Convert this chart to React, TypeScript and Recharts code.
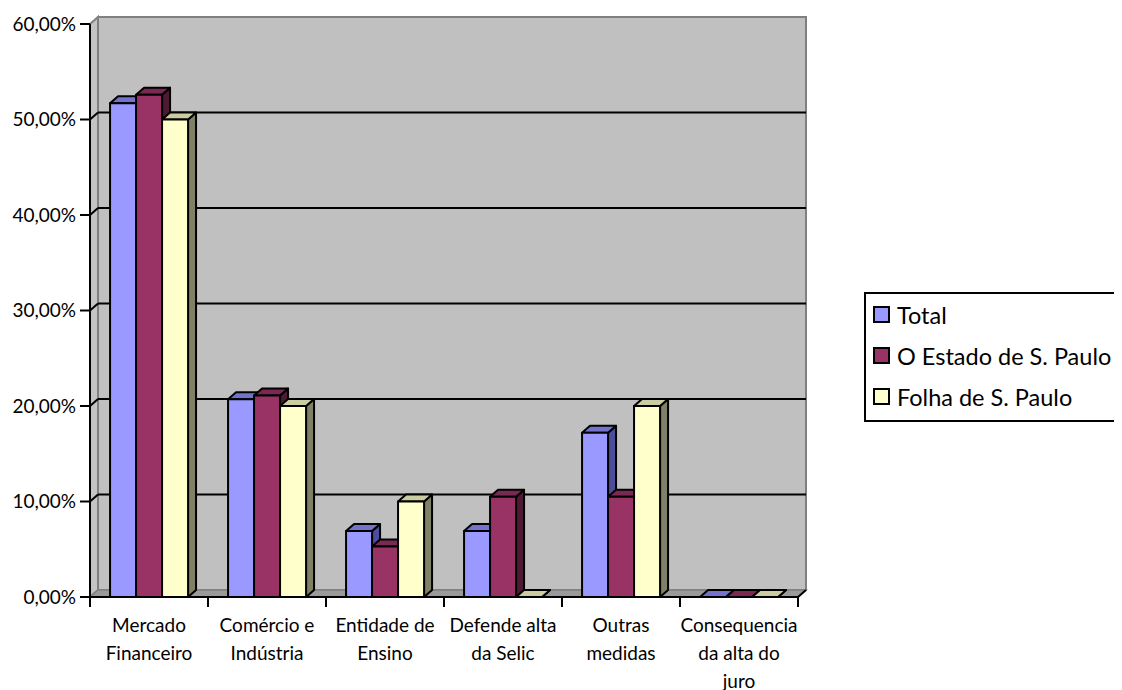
import { BarChart, Bar, XAxis, YAxis, Legend, ReferenceArea, ReferenceLine } from "recharts";

const categoryLines = [
  ["Mercado", "Financeiro"],
  ["Comércio e", "Indústria"],
  ["Entidade de", "Ensino"],
  ["Defende alta", "da Selic"],
  ["Outras", "medidas"],
  ["Consequencia", "da alta do", "juro"],
];
const categories = categoryLines.map((l) => l.join(" "));

const totalValues = [0.517, 0.207, 0.069, 0.069, 0.172, 0];
const estadoValues = [0.526, 0.211, 0.053, 0.105, 0.105, 0];
const folhaValues = [0.5, 0.2, 0.1, 0, 0.2, 0];

const seriesNames = ["Total", "O Estado de S. Paulo", "Folha de S. Paulo"];

const yTicks = [0, 0.1, 0.2, 0.3, 0.4, 0.5, 0.6];

const data = categories.map((name, i) => ({
  name,
  total: totalValues[i],
  estado: estadoValues[i],
  folha: folhaValues[i],
}));

// 3d depth offsets
const DX = 8;
const DY = 7;
const FONT = "Lato, 'Noto Sans', sans-serif";

const fmtPct = (v: number) => (v * 100).toFixed(2).replace(".", ",") + "%";

function bar3d(front: string, top: string, side: string) {
  return (props: any) => {
    const { x, y, width: w, height: h } = props;
    if (x == null || y == null) return null;
    const bottom = y + h;
    return (
      <g stroke="#000" strokeWidth={2} strokeLinejoin="round">
        <polygon
          points={`${x + w},${y} ${x + w + DX},${y - DY} ${x + w + DX},${bottom - DY} ${x + w},${bottom}`}
          fill={side}
        />
        <polygon
          points={`${x},${y} ${x + DX},${y - DY} ${x + w + DX},${y - DY} ${x + w},${y}`}
          fill={top}
        />
        {h > 0 && <rect x={x} y={y} width={w} height={h} fill={front} />}
      </g>
    );
  };
}

function Walls(props: any) {
  const { x, y, width, height } = props;
  const b = y + height;
  return (
    <g>
      {/* back wall */}
      <rect x={x + DX} y={y - DY} width={width} height={height} fill="#C0C0C0" stroke="#808080" strokeWidth={2} />
      {/* side wall */}
      <polygon
        points={`${x},${y} ${x + DX},${y - DY} ${x + DX},${b - DY} ${x},${b}`}
        fill="#C4C4C4"
        stroke="#808080"
        strokeWidth={2}
      />
      {/* floor */}
      <polygon
        points={`${x},${b} ${x + DX},${b - DY} ${x + width + DX},${b - DY} ${x + width},${b}`}
        fill="#9A9A9A"
        stroke="#808080"
        strokeWidth={1.5}
      />
    </g>
  );
}

function WallGridLine(props: any) {
  const { x1, y1, x2, y2 } = props;
  return (
    <g stroke="#000" strokeWidth={2}>
      <line x1={x1} y1={y1} x2={x1 + DX} y2={y1 - DY} />
      <line x1={x1 + DX} y1={y1 - DY} x2={x2 + DX} y2={y2 - DY} />
    </g>
  );
}

function CategoryTick(props: any) {
  const { x, y, payload, index } = props;
  const half = payload?.offset || 59;
  const idx = categories.indexOf(payload.value);
  const lines = categoryLines[idx >= 0 ? idx : index] || [String(payload.value)];
  const isLast = idx === categories.length - 1;
  return (
    <g>
      <line x1={x - half} y1={y} x2={x - half} y2={y + 10} stroke="#000" strokeWidth={2} />
      {isLast && (
        <g stroke="#000" strokeWidth={2}>
          <line x1={x + half} y1={y} x2={x + half} y2={y + 10} />
          <line x1={x + half} y1={y} x2={x + half + DX} y2={y - DY} />
        </g>
      )}
      <text x={x} y={y + 30} textAnchor="middle" fontFamily={FONT} fontSize={19} fill="#000">
        {lines.map((l, i) => (
          <tspan key={i} x={x} dy={i === 0 ? 0 : 28} dominantBaseline="middle">
            {l}
          </tspan>
        ))}
      </text>
    </g>
  );
}

function LegendBox(props: any) {
  const payload = [...(props.payload || [])].sort(
    (a: any, b: any) => seriesNames.indexOf(a.value) - seriesNames.indexOf(b.value)
  );
  return (
    <div
      style={{
        boxSizing: "border-box",
        width: 258,
        border: "2px solid #000",
        background: "#fff",
        padding: "0 0 3px 7px",
        fontFamily: FONT,
        fontSize: 23.5,
        color: "#000",
        whiteSpace: "nowrap",
      }}
    >
      {payload.map((e: any) => (
        <div key={e.value} style={{ display: "flex", alignItems: "center", height: 41 }}>
          <span
            style={{
              boxSizing: "border-box",
              display: "inline-block",
              width: 17,
              height: 17,
              border: "2px solid #000",
              background: e.color,
              marginRight: 7,
            }}
          />
          {e.value}
        </div>
      ))}
    </div>
  );
}

export default function App() {
  return (
    <BarChart
      width={1114}
      height={682}
      data={data}
      margin={{ top: 16, right: 324, bottom: 0, left: 0 }}
      barCategoryGap="17%"
      barGap={0}
      style={{ background: "#fff" }}
    >
      <ReferenceArea y1={0} y2={0.6} shape={<Walls />} zIndex={-60} ifOverflow="visible" />
      {yTicks.slice(1, -1).map((t) => (
        <ReferenceLine key={t} y={t} shape={<WallGridLine />} zIndex={-55} ifOverflow="visible" />
      ))}
      <XAxis
        dataKey="name"
        interval={0}
        height={93}
        tickSize={0}
        tickMargin={0}
        tickLine={false}
        axisLine={{ stroke: "#000", strokeWidth: 2 }}
        tick={<CategoryTick />}
      />
      <YAxis
        width={82}
        domain={[0, 0.6]}
        ticks={yTicks}
        tickFormatter={fmtPct}
        tickSize={10}
        tickMargin={4}
        axisLine={{ stroke: "#000", strokeWidth: 2 }}
        tickLine={{ stroke: "#000", strokeWidth: 2 }}
        tick={{ fill: "#000", fontSize: 19, fontFamily: FONT }}
      />
      <Legend
        layout="vertical"
        align="center"
        verticalAlign="middle"
        wrapperStyle={{ left: 856, top: 284, width: 258 }}
        content={<LegendBox />}
      />
      <Bar dataKey="total" name={seriesNames[0]} fill="#9999FF" shape={bar3d("#9999FF", "#7373CC", "#4D4D99")} isAnimationActive={false} />
      <Bar dataKey="estado" name={seriesNames[1]} fill="#993366" shape={bar3d("#993366", "#7A2952", "#4D1A33")} isAnimationActive={false} />
      <Bar dataKey="folha" name={seriesNames[2]} fill="#FFFFCC" shape={bar3d("#FFFFCC", "#CCCCA3", "#808066")} isAnimationActive={false} />
    </BarChart>
  );
}
